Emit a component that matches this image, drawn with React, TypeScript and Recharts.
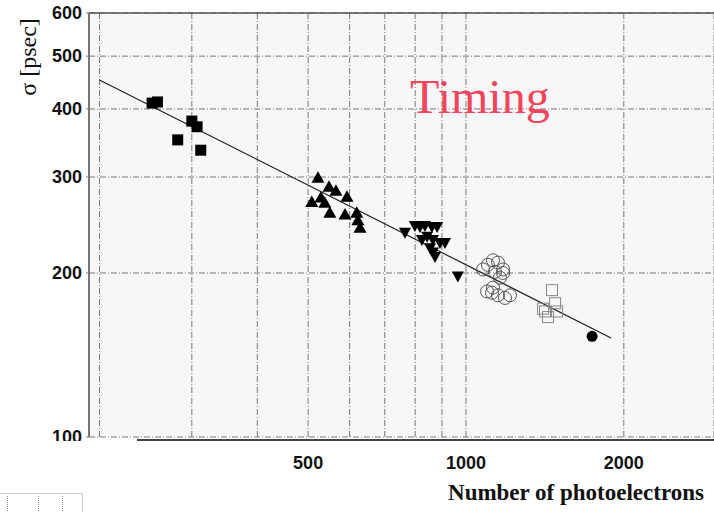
import { ScatterChart, Scatter, XAxis, YAxis, CartesianGrid, ReferenceLine, Customized } from 'recharts';

// photoelectrons (N) vs timing resolution (sigma, psec)
const filledSquareN = [252, 258, 300, 307, 282, 312];
const filledSquareSigma = [410, 412, 380, 371, 351, 336];

const triangleN = [522, 548, 565, 593, 508, 529, 538, 550, 588, 619, 622, 628];
const triangleSigma = [299, 288, 283, 276, 270, 275, 269, 258, 256, 258, 250, 242];

const invTriangleN = [765, 799, 817, 835, 861, 881, 824, 843, 865, 892, 912, 854, 873, 865, 965];
const invTriangleSigma = [237, 244, 243, 244, 243, 243, 230, 233, 230, 227, 227, 222, 214, 218, 197];

const openCircleN = [1126, 1101, 1151, 1078, 1177, 1136, 1177, 1161, 1097, 1126, 1151, 1187, 1213, 1121];
const openCircleSigma = [211, 207, 209, 203, 203, 201, 200, 196, 185, 188, 182, 180, 182, 184];

const openSquareN = [1459, 1479, 1403, 1434, 1492, 1415];
const openSquareSigma = [186, 176, 172, 166, 170, 170];

const filledCircleN = [1740];
const filledCircleSigma = [153];

const fitN = [200, 1891];
const fitSigma = [452, 152];

const xTicks = [200, 300, 400, 500, 600, 700, 800, 900, 1000, 2000];
const xLabelled = [500, 1000, 2000];
const yTicks = [100, 200, 300, 400, 500, 600];

const zip = (n: number[], s: number[]) => n.map((x, i) => ({ x, y: s[i] }));

const FilledSquare = ({ cx, cy }: any) => <rect x={cx - 5.5} y={cy - 5.5} width={11} height={11} fill="#000" />;
const TriangleUp = ({ cx, cy }: any) => (
    <polygon points={`${cx},${cy - 6.5} ${cx - 6.5},${cy + 5} ${cx + 6.5},${cy + 5}`} fill="#000" />
);
const TriangleDown = ({ cx, cy }: any) => (
    <polygon points={`${cx - 6},${cy - 5} ${cx + 6},${cy - 5} ${cx},${cy + 6}`} fill="#000" />
);
const OpenCircle = ({ cx, cy }: any) => <circle cx={cx} cy={cy} r={6.5} fill="none" stroke="#555" strokeWidth={1} />;
const OpenSquare = ({ cx, cy }: any) => (
    <rect x={cx - 5.5} y={cy - 5.5} width={11} height={11} fill="none" stroke="#888" strokeWidth={1} />
);
const FilledCircle = ({ cx, cy }: any) => <circle cx={cx} cy={cy} r={5.5} fill="#000" />;
const NoDot = () => <g />;

const XTick = ({ x, y, payload }: any) =>
    xLabelled.includes(payload.value) ? (
        <text x={x} y={y + 26} textAnchor="middle" dominantBaseline="central"
            fontFamily="Liberation Sans, Arial, sans-serif" fontWeight="bold" fontSize={18} fill="#111">
            {payload.value}
        </text>
    ) : <g />;

const YTick = ({ x, y, payload }: any) => (
    <text x={x} y={y} textAnchor="end" dominantBaseline="central"
        fontFamily="Liberation Sans, Arial, sans-serif" fontWeight="bold" fontSize={18} fill="#111">
        {payload.value}
    </text>
);

const Timing = () => (
    <text x={410} y={113} fontFamily="Liberation Serif, Times New Roman, serif" fontSize={48} fill="#f0455a">
        Timing
    </text>
);

export default function App() {
    return (
        <div style={{ position: 'relative', width: 714, height: 512, background: '#fff' }}>
            <style>{'body{margin:0}'}</style>
            <ScatterChart width={714} height={512} margin={{ top: 13, right: 0, left: 0, bottom: 0 }}>
                <CartesianGrid fill="#f7f6f8" stroke="#7a7a7a" strokeDasharray="6 2 1 2" />
                <XAxis
                    dataKey="x"
                    type="number"
                    scale="log"
                    domain={[191, 2972]}
                    allowDataOverflow
                    ticks={xTicks}
                    interval={0}
                    height={75}
                    axisLine={false}
                    tickLine={false}
                    tickSize={0}
                    tickMargin={0}
                    tick={<XTick />}
                    label={{
                        content: () => (
                            <text x={576} y={500} textAnchor="middle"
                                fontFamily="Liberation Serif, Times New Roman, serif" fontWeight="bold" fontSize={23} fill="#111">
                                Number of photoelectrons
                            </text>
                        ),
                    }}
                />
                <YAxis
                    dataKey="y"
                    type="number"
                    scale="log"
                    domain={[100, 600]}
                    allowDataOverflow
                    ticks={yTicks}
                    interval={0}
                    width={89}
                    axisLine={{ stroke: '#777', strokeWidth: 2 }}
                    tickLine={{ stroke: '#777' }}
                    tickSize={3}
                    tickMargin={4}
                    tick={<YTick />}
                    label={{
                        content: () => (
                            <text x={28} y={57} textAnchor="middle" dominantBaseline="central"
                                transform="rotate(-90, 28, 57)"
                                fontFamily="Liberation Serif, Times New Roman, serif" fontSize={24} fill="#111">
                                σ  [psec]
                            </text>
                        ),
                    }}
                />
                <ReferenceLine y={600} stroke="#555" strokeWidth={1.5} />
                <Scatter data={zip(fitN, fitSigma)} line={{ stroke: '#222', strokeWidth: 1.2 }} shape={<NoDot />} isAnimationActive={false} />
                <Scatter data={zip(filledSquareN, filledSquareSigma)} shape={<FilledSquare />} isAnimationActive={false} />
                <Scatter data={zip(triangleN, triangleSigma)} shape={<TriangleUp />} isAnimationActive={false} />
                <Scatter data={zip(invTriangleN, invTriangleSigma)} shape={<TriangleDown />} isAnimationActive={false} />
                <Scatter data={zip(openCircleN, openCircleSigma)} shape={<OpenCircle />} isAnimationActive={false} />
                <Scatter data={zip(openSquareN, openSquareSigma)} shape={<OpenSquare />} isAnimationActive={false} />
                <Scatter data={zip(filledCircleN, filledCircleSigma)} shape={<FilledCircle />} isAnimationActive={false} />
                <Customized component={Timing} />
            </ScatterChart>
            {/* bottom frame line starts right of the cut-off corner */}
            <div style={{ position: 'absolute', left: 137, top: 439, width: 577, height: 2, background: '#444' }} />
            <div style={{ position: 'absolute', left: 0, top: 441, width: 137, height: 20, background: '#fff' }} />
            {/* leftover scrap of another plot in the corner */}
            <div style={{ position: 'absolute', left: 0, top: 493, width: 83, height: 19, borderTop: '1px solid #ccc', borderRight: '1px solid #ccc', boxSizing: 'border-box' }}>
                <div style={{ position: 'absolute', left: 7, top: 2, height: 17, borderLeft: '1px dotted #999' }} />
                <div style={{ position: 'absolute', left: 38, top: 2, height: 17, borderLeft: '1px dotted #999' }} />
                <div style={{ position: 'absolute', left: 62, top: 2, height: 17, borderLeft: '1px dotted #999' }} />
            </div>
        </div>
    );
}
